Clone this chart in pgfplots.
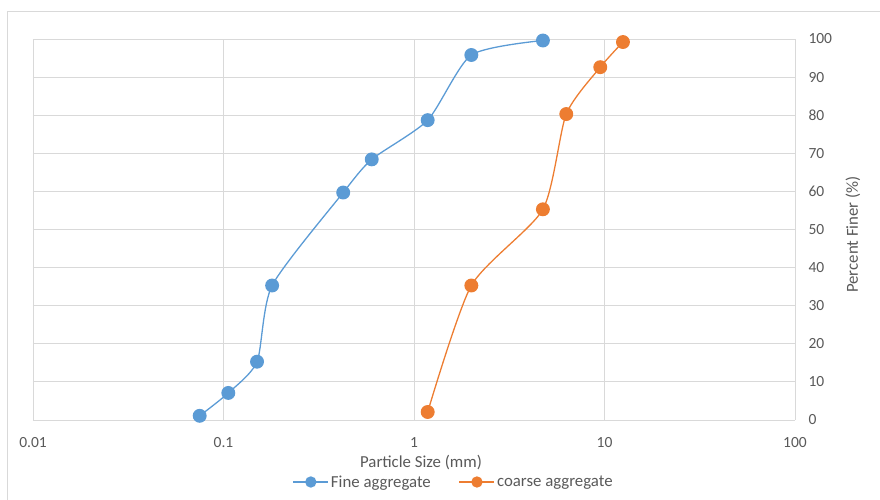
\documentclass[border=0pt]{standalone}
\usepackage{pgfplots}
\pgfplotsset{compat=1.18}
\usepackage{fontspec}
\setmainfont{Carlito}
\definecolor{fineblue}{HTML}{5B9BD5}
\definecolor{coarseorange}{HTML}{ED7D31}
\definecolor{txtgray}{HTML}{595959}
\definecolor{gridgray}{HTML}{D9D9D9}
\begin{document}
\begin{tikzpicture}[x=1bp,y=1bp]
\useasboundingbox (0,0) rectangle (880,500);
\draw[gridgray,line width=0.9bp] (7,0) -- (7,489) -- (880,489);
\begin{axis}[
  at={(33bp,80bp)}, anchor=south west,
  scale only axis, width=762bp, height=381bp,
  xmode=log, xmin=0.01, xmax=100, ymin=0, ymax=100,
  log basis x=10,
  xtick={0.01,0.1,1,10,100},
  xticklabels={0.01,0.1,1,10,100},
  ytick={0,10,...,100},
  axis y line*=right,
  axis x line*=bottom,
  axis line style={draw=gridgray},
  grid=major, major grid style={gridgray, line width=0.9bp},
  minor tick num=0, minor x tick num=0,
  tick style={draw=none},
  ticklabel style={font=\fontsize{15.5bp}{17bp}\selectfont, text=txtgray},
  /pgf/number format/assume math mode=true,
  yticklabel style={anchor=west, xshift=10bp},
  xticklabel style={anchor=center, yshift=-23bp},
  xlabel={Particle Size (mm)}, ylabel={Percent Finer (\%)},
  label style={font=\fontsize{16.8bp}{18bp}\selectfont, text=txtgray},
  xlabel style={at={(0.5,0)}, anchor=center, yshift=-43bp, xshift=7bp},
  ylabel style={at={(1,0.5)}, anchor=center, rotate=0, yshift=-58bp, xshift=-5bp},
  legend style={at={(0.552,0)}, anchor=center, yshift=-62bp, draw=none, fill=none, legend columns=2,
     font=\fontsize{16.8bp}{18bp}\selectfont, text=txtgray,
     /tikz/every even column/.append style={column sep=26bp},
     inner sep=0pt},
  legend image code/.code={
     \draw[#1, mark=none] (0bp,0bp) -- (35bp,0bp);
     \fill[#1] (17.5bp,0bp) circle (5bp);},
  clip=false,
]
\addplot[fineblue, line width=1.3bp, smooth, tension=0.4, mark=*, mark size=6.3bp,
  mark options={fill=fineblue, draw=fineblue}] coordinates {
 (0.075,1.1) (0.106,7.1) (0.15,15.3) (0.18,35.3) (0.425,59.7) (0.6,68.4) (1.18,78.7) (2.0,95.8) (4.75,99.6)};
\addlegendentry{Fine aggregate}
\addplot[coarseorange, line width=1.3bp, smooth, tension=0.4, mark=*, mark size=6.3bp,
  mark options={fill=coarseorange, draw=coarseorange}] coordinates {
 (1.18,2.1) (2.0,35.3) (4.75,55.3) (6.3,80.3) (9.5,92.6) (12.5,99.2)};
\addlegendentry{coarse aggregate}
\end{axis}
\end{tikzpicture}
\end{document}
